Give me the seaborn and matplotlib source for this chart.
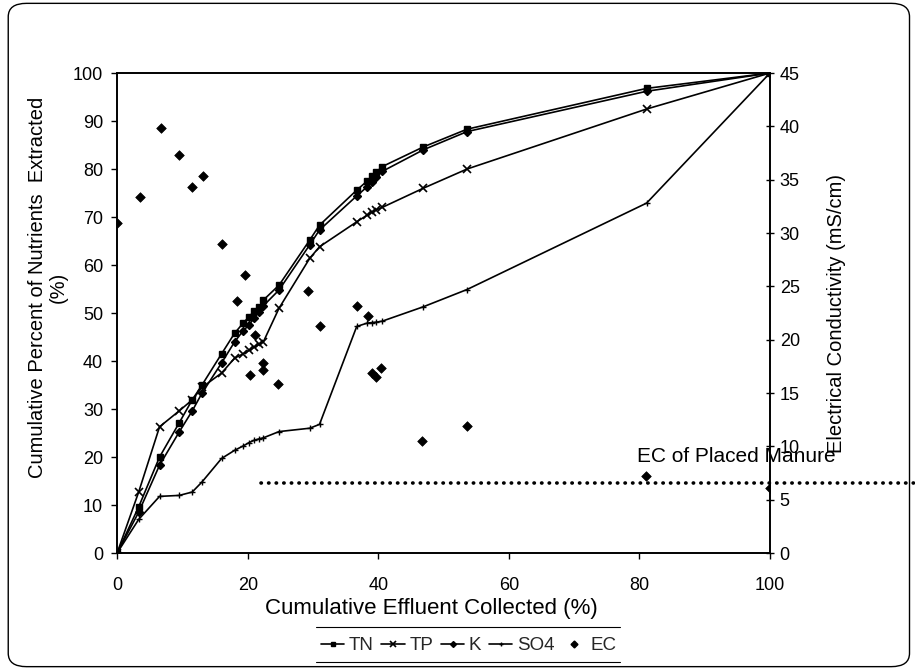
import matplotlib
matplotlib.use("Agg")
import matplotlib.pyplot as plt
from matplotlib.lines import Line2D
from matplotlib.patches import FancyBboxPatch
import seaborn as sns

# cumulative effluent collected (%), shared by the nutrient series
EFFLUENT = [0, 3.3, 6.5, 9.5, 11.5, 13, 16, 18, 19.3, 20.2, 21, 21.8, 22.4,
            24.8, 29.5, 31, 36.7, 38.3, 39, 39.7, 40.6, 46.9, 53.6, 81.1, 100]
TN = [0, 9.6, 20, 27.1, 31.9, 35, 41.5, 45.8, 47.9, 49.2, 50.4, 51.3, 52.7,
      55.8, 65.2, 68.3, 75.6, 77.5, 78.5, 79.3, 80.5, 84.6, 88.3, 96.8, 100]
TP = [0, 12.7, 26.3, 29.6, 31.9, 34.5, 37.5, 40.6, 41.5, 42.2, 42.9, 43.5, 44,
      51, 61.4, 63.8, 69, 70.4, 71, 71.5, 72, 76, 80, 92.5, 100]
K = [0, 8.5, 18.3, 25.2, 29.6, 33.3, 39.6, 44, 46.3, 47.5, 49, 50.3, 51.5,
     54.8, 64.2, 67.3, 74.4, 76.3, 77.3, 78.3, 79.5, 84, 87.8, 96.2, 100]
SO4 = [0, 7, 11.8, 12, 12.7, 14.8, 19.7, 21.4, 22.3, 23, 23.5, 23.8, 24,
       25.3, 26, 26.8, 47.2, 47.9, 48, 48.1, 48.3, 51.3, 54.9, 72.9, 100]

# electrical conductivity of the effluent (mS/cm)
EC_X = [0, 3.5, 6.7, 9.5, 11.5, 13.1, 16.1, 18.3, 19.6, 20.4, 21.1, 22.4, 22.4,
        24.7, 29.3, 31, 36.7, 38.4, 39, 39.7, 40.4, 46.7, 53.6, 81, 100]
EC = [30.9, 33.4, 39.8, 37.3, 34.3, 35.3, 29.0, 23.6, 26.1, 16.7, 20.4, 17.8, 17.2,
      15.8, 24.6, 21.3, 23.2, 22.2, 16.9, 16.5, 17.3, 10.5, 11.9, 7.2, 6.1]

EC_MANURE = 6.6
EC_LINE_X = [22, 122]

sns.set_theme(style="ticks")
plt.rcParams["font.family"] = ["Liberation Sans", "DejaVu Sans"]

INK = "black"
TICK_FS = 13
LABEL_FS = 14.5

fig = plt.figure(figsize=(9.15, 6.7), dpi=100)
ax = fig.add_axes([0.128, 0.1746, 0.7135, 0.7164])
ax2 = ax.twinx()

series = [
    ("TN", TN, "s", 5, 1.0),
    ("TP", TP, "x", 6, 1.2),
    ("K", K, "D", 4.5, 1.0),
    ("SO4", SO4, "+", 4, 1.0),
]
handles = []
for name, values, mk, ms, mew in series:
    sns.lineplot(x=EFFLUENT, y=values, ax=ax, color=INK, lw=1.2, marker=mk,
                 markersize=ms, markeredgecolor=INK, markerfacecolor=INK,
                 markeredgewidth=mew, sort=False, estimator=None)
    handles.append(Line2D([], [], color=INK, lw=1.2, marker=mk, markersize=ms - 1.5,
                          markeredgecolor=INK, markerfacecolor=INK,
                          markeredgewidth=mew, label=name))

sns.scatterplot(x=EC_X, y=EC, ax=ax2, color=INK, marker="D", s=24,
                edgecolor=INK, linewidth=0.5, zorder=5)
handles.append(Line2D([], [], color=INK, lw=0, marker="D", markersize=3.5,
                      label="EC"))

ax2.plot(EC_LINE_X, [EC_MANURE, EC_MANURE], color=INK, lw=2.6,
         linestyle=(0, (0.1, 2)), dash_capstyle="round", clip_on=False)
ax2.text(94.8, 8.2, "EC of Placed Manure", fontsize=15, color=INK,
         ha="center", va="bottom")

ax.set_xlim(0, 100)
ax.set_ylim(0, 100)
ax2.set_ylim(0, 45)
ax.set_xticks(range(0, 101, 20))
ax.set_yticks(range(0, 101, 10))
ax2.set_yticks(range(0, 46, 5))

for a in (ax, ax2):
    for sp in a.spines.values():
        sp.set_visible(True)
        sp.set_color(INK)
        sp.set_linewidth(1.2)
ax.tick_params(axis="both", direction="out", length=4, width=1, colors=INK,
               labelsize=TICK_FS, pad=6)
ax.tick_params(axis="x", pad=13)
ax2.tick_params(axis="y", direction="inout", length=6, width=1, colors=INK,
                labelsize=TICK_FS, pad=4)

ax.set_xlabel("Cumulative Effluent Collected (%)", fontsize=16, color=INK)
ax.xaxis.set_label_coords(0.482, -0.093)
ax.set_ylabel("Cumulative Percent of Nutrients  Extracted\n(%)",
              fontsize=LABEL_FS, color=INK, linespacing=1.1)
ax.yaxis.set_label_coords(-0.076, 0.553)
ax2.set_ylabel("Electrical Conductivity (mS/cm)", fontsize=LABEL_FS, color=INK)
ax2.yaxis.set_label_coords(1.087, 0.5)

fig.legend(handles=handles, loc="center", bbox_to_anchor=(0.512, 0.036), ncol=5,
           frameon=False, fontsize=13.5, handlelength=1.25,
           handletextpad=0.25, columnspacing=0.4)
for yy in (0.064, 0.012):
    fig.add_artist(Line2D([0.345, 0.678], [yy, yy], color=INK, lw=0.8,
                          transform=fig.transFigure))

fig.add_artist(FancyBboxPatch((0.009, 0.005), 0.985, 0.99,
                              boxstyle="round,pad=0,rounding_size=0.02",
                              transform=fig.transFigure, fill=False,
                              edgecolor=INK, lw=1))

fig.savefig("out.png", dpi=100, facecolor="white")
